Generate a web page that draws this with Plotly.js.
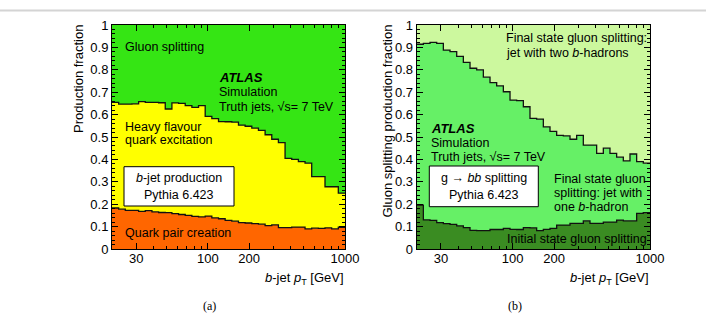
<!DOCTYPE html>
<html>
<head>
<meta charset="utf-8">
<script src="https://cdn.plot.ly/plotly-3.0.1.min.js"></script>
<style>
  html, body { margin: 0; padding: 0; background: #fff; }
  #chart { width: 706px; height: 316px; }
</style>
</head>
<body>
<div id="chart"></div>
<script>
// b-jet pT bin edges [GeV], log-spaced from 20 to 1000
const binEdges = [20, 22.37, 25.01, 27.97, 31.27, 34.97, 39.11, 43.73, 48.90, 54.69,
  61.16, 68.39, 76.47, 85.52, 95.63, 106.9, 119.6, 133.7, 149.5, 167.2,
  187.0, 209.1, 233.8, 261.5, 292.4, 326.9, 365.6, 408.8, 457.2, 511.2,
  571.7, 639.3, 714.9, 799.4, 893.9, 1000];

// (a) b-jet production fractions per bin
const quarkPairCreation = [0.183, 0.178, 0.172, 0.172, 0.168, 0.171, 0.166, 0.163, 0.162, 0.158,
  0.154, 0.150, 0.146, 0.143, 0.147, 0.139, 0.135, 0.128, 0.124, 0.118,
  0.116, 0.113, 0.111, 0.104, 0.108, 0.095, 0.095, 0.098, 0.098, 0.090,
  0.093, 0.092, 0.094, 0.090, 0.097];
const heavyFlavourExcitation = [0.472, 0.469, 0.475, 0.476, 0.490, 0.484, 0.489, 0.490, 0.463, 0.494,
  0.496, 0.490, 0.486, 0.497, 0.445, 0.443, 0.434, 0.440, 0.442, 0.435,
  0.432, 0.427, 0.419, 0.406, 0.382, 0.380, 0.310, 0.302, 0.292, 0.293,
  0.230, 0.231, 0.184, 0.188, 0.152];
const gluonSplitting = [0.345, 0.353, 0.353, 0.352, 0.342, 0.345, 0.345, 0.347, 0.375, 0.348,
  0.350, 0.360, 0.368, 0.360, 0.408, 0.418, 0.431, 0.432, 0.434, 0.447,
  0.452, 0.460, 0.470, 0.490, 0.510, 0.525, 0.595, 0.600, 0.610, 0.617,
  0.677, 0.677, 0.722, 0.722, 0.751];

// (b) g -> bb splitting fractions per bin
const initialStateSplitting = [0.196, 0.130, 0.128, 0.118, 0.113, 0.110, 0.103, 0.095, 0.083, 0.082,
  0.082, 0.087, 0.087, 0.092, 0.088, 0.087, 0.095, 0.094, 0.082, 0.088,
  0.092, 0.107, 0.107, 0.114, 0.114, 0.126, 0.114, 0.114, 0.120, 0.120,
  0.129, 0.126, 0.126, 0.159, 0.162];
const finalStateOneB = [0.718, 0.788, 0.794, 0.800, 0.775, 0.771, 0.757, 0.738, 0.724, 0.718,
  0.685, 0.656, 0.641, 0.610, 0.577, 0.575, 0.540, 0.489, 0.498, 0.457,
  0.433, 0.400, 0.398, 0.376, 0.393, 0.338, 0.350, 0.313, 0.330, 0.307,
  0.281, 0.267, 0.298, 0.231, 0.221];
const finalStateTwoB = [0.086, 0.082, 0.078, 0.082, 0.112, 0.119, 0.140, 0.167, 0.193, 0.200,
  0.233, 0.257, 0.272, 0.298, 0.335, 0.338, 0.365, 0.417, 0.420, 0.455,
  0.475, 0.493, 0.495, 0.510, 0.493, 0.536, 0.536, 0.573, 0.550, 0.573,
  0.590, 0.607, 0.576, 0.610, 0.617];

const xTickVals = [30, 100, 200, 1000];
const xTickText = ['30', '100', '200', '1000'];
const xMinorVals = [20, 40, 50, 60, 70, 80, 90, 300, 400, 500, 600, 700, 800, 900];

const FONT = 'Liberation Sans, Arial, Helvetica, sans-serif';
const SERIF = 'Liberation Serif, Times New Roman, serif';
const W = 706, H = 316;
const px = v => v / W;          // pixel -> paper (x)
const py = v => 1 - v / H;      // pixel -> paper (y)

// running sums for a stacked step histogram; last value repeated to close the final bin
function stack(layers) {
  const out = [];
  let run = layers[0].map(() => 0);
  layers.forEach(l => {
    run = run.map((r, i) => r + l[i]);
    out.push(run.concat([run[run.length - 1]]));
  });
  return out;
}

function layerTraces(layers, colors, xa, ya) {
  const cum = stack(layers);
  return cum.map((y, i) => ({
    type: 'scatter', mode: 'lines', x: binEdges, y: y,
    xaxis: xa, yaxis: ya,
    line: { shape: 'hv', color: '#111', width: i === cum.length - 1 ? 0 : 1.3 },
    fill: i === 0 ? 'tozeroy' : 'tonexty',
    fillcolor: colors[i],
    hoverinfo: 'skip', showlegend: false
  }));
}

const traces = [].concat(
  layerTraces([quarkPairCreation, heavyFlavourExcitation, gluonSplitting],
              ['#ff6600', '#ffff00', '#35e514'], 'x', 'y'),
  layerTraces([initialStateSplitting, finalStateOneB, finalStateTwoB],
              ['#3a8c22', '#66f066', '#ccf89e'], 'x2', 'y2')
);

const yTop = 25, yBot = 249;
const yDomain = [py(yBot), py(yTop)];

function xAxis(x0, x1, anchor) {
  return {
    type: 'log', domain: [px(x0), px(x1)], anchor: anchor,
    range: [Math.log10(20), 3],
    tickmode: 'array', tickvals: xTickVals, ticktext: xTickText,
    ticks: 'inside', ticklen: 6, tickwidth: 1, tickcolor: '#000',
    ticklabelstandoff: -3,
    showline: true, linecolor: '#000', linewidth: 1, mirror: 'allticks',
    showgrid: false, zeroline: false,
    tickfont: { family: FONT, size: 13, color: '#000' },
    minor: { tickvals: xMinorVals, ticks: 'inside', ticklen: 3, tickcolor: '#000', showgrid: false }
  };
}
function yAxis(anchor) {
  return {
    domain: yDomain, anchor: anchor, range: [0, 1],
    tickmode: 'linear', tick0: 0, dtick: 0.1,
    ticks: 'inside', ticklen: 6, tickwidth: 1, tickcolor: '#000',
    showline: true, linecolor: '#000', linewidth: 1, mirror: 'allticks',
    showgrid: false, zeroline: false,
    tickfont: { family: FONT, size: 13, color: '#000' },
    minor: { dtick: 0.02, ticks: 'inside', ticklen: 3, tickcolor: '#000', showgrid: false }
  };
}

function label(text, x, y, opts) {
  return Object.assign({
    text: text, x: px(x), y: py(y), xref: 'paper', yref: 'paper',
    xanchor: 'left', yanchor: 'middle', showarrow: false,
    font: { family: FONT, size: 12.5, color: '#000' }
  }, opts || {});
}
const big = { font: { family: FONT, size: 13, color: '#000' } };
const caption = { xanchor: 'center', font: { family: SERIF, size: 12, color: '#000' } };

const annotations = [
  // panel (a)
  label('Gluon splitting', 123, 46.7),
  label('<b><i>ATLAS</i></b>', 217, 77.7, big),
  label('Simulation', 217, 91.7),
  label('Truth jets, √s= 7 TeV', 217, 106.7),
  label('Heavy flavour', 123, 126.7),
  label('quark excitation', 123, 140),
  label('<i>b</i>-jet production', 179, 177.7, { xanchor: 'center' }),
  label('Pythia 6.423', 179, 195, { xanchor: 'center' }),
  label('Quark pair creation', 123, 233.3),
  label('<i>b</i>-jet <i>p</i><sub>T</sub> [GeV]', 346, 278, Object.assign({ xanchor: 'right' }, big)),
  label('Production fraction', 79, 23, Object.assign({ xanchor: 'center', yanchor: 'top', textangle: -90 }, big)),
  label('(a)', 209, 306, caption),
  // panel (b)
  label('Final state gluon splitting:', 504, 38.3),
  label('jet with two <i>b</i>-hadrons', 504, 52.7),
  label('<b><i>ATLAS</i></b>', 429, 128.3, big),
  label('Simulation', 429, 142.7),
  label('Truth jets, √s= 7 TeV', 429, 156.7),
  label('g → <i>bb</i> splitting', 483.8, 177.7, { xanchor: 'center' }),
  label('Pythia 6.423', 483.8, 195, { xanchor: 'center' }),
  label('Final state gluon', 552, 179.3),
  label('splitting: jet with', 552, 193.3),
  label('one <i>b</i>-hadron', 552, 207.3),
  label('Initial state gluon splitting', 505, 239.3),
  label('<i>b</i>-jet <i>p</i><sub>T</sub> [GeV]', 651, 278, Object.assign({ xanchor: 'right' }, big)),
  label('Gluon splitting production fraction', 387, 23, Object.assign({ xanchor: 'center', yanchor: 'top', textangle: -90 }, big)),
  label('(b)', 515, 306, caption)
];

const shapes = [
  // rule across the top of the page
  { type: 'line', xref: 'paper', yref: 'paper', x0: 0, x1: 1, y0: py(10.5), y1: py(10.5),
    line: { color: '#d4d4d4', width: 2 } },
  // caption boxes
  { type: 'rect', xref: 'paper', yref: 'paper', x0: px(124), x1: px(234), y0: py(206), y1: py(166.7),
    fillcolor: '#fff', line: { color: '#000', width: 1 }, layer: 'above' },
  { type: 'rect', xref: 'paper', yref: 'paper', x0: px(429.3), x1: px(538.3), y0: py(206.7), y1: py(166),
    fillcolor: '#fff', line: { color: '#000', width: 1 }, layer: 'above' }
];

const layout = {
  width: W, height: H, autosize: false,
  margin: { l: 0, r: 0, t: 0, b: 0, pad: 0 },
  paper_bgcolor: '#fff', plot_bgcolor: '#fff',
  showlegend: false,
  xaxis: xAxis(112, 345, 'y'),
  yaxis: yAxis('x'),
  xaxis2: xAxis(416.7, 650, 'y2'),
  yaxis2: yAxis('x2'),
  annotations: annotations,
  shapes: shapes
};

Plotly.newPlot('chart', traces, layout, { staticPlot: true, displayModeBar: false });
</script>
</body>
</html>
